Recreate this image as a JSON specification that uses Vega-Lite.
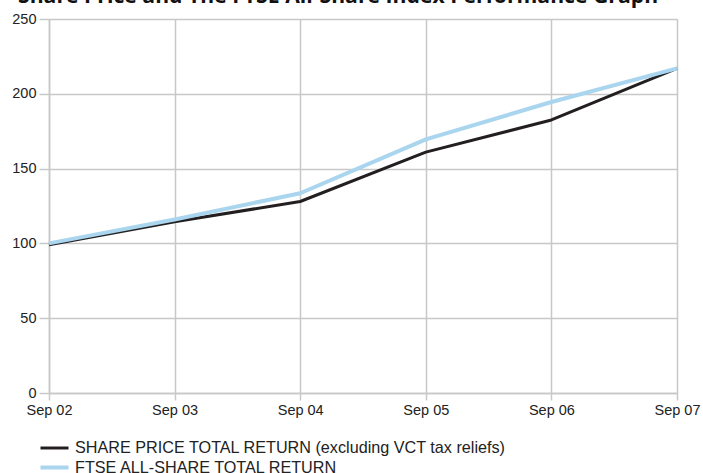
{
  "$schema": "https://vega.github.io/schema/vega-lite/v6.json",
  "width": 628,
  "height": 374,
  "autosize": {"type": "none"},
  "padding": {"left": 49, "top": 19, "right": 26, "bottom": 80},
  "background": "white",
  "title": {
    "text": "Share Price and The FTSE All-Share Index Performance Graph",
    "anchor": "start",
    "frame": "group",
    "dx": -31,
    "offset": 4,
    "font": "Open Sans",
    "fontSize": 21.2,
    "fontWeight": "bold",
    "color": "#111111"
  },
  "data": {
    "values": [
      {"date": "Sep 02", "series": "SHARE PRICE TOTAL RETURN (excluding VCT tax reliefs)", "value": 99},
      {"date": "Sep 03", "series": "SHARE PRICE TOTAL RETURN (excluding VCT tax reliefs)", "value": 114.5},
      {"date": "Sep 04", "series": "SHARE PRICE TOTAL RETURN (excluding VCT tax reliefs)", "value": 128},
      {"date": "Sep 05", "series": "SHARE PRICE TOTAL RETURN (excluding VCT tax reliefs)", "value": 161},
      {"date": "Sep 06", "series": "SHARE PRICE TOTAL RETURN (excluding VCT tax reliefs)", "value": 182.5},
      {"date": "Sep 07", "series": "SHARE PRICE TOTAL RETURN (excluding VCT tax reliefs)", "value": 217},
      {"date": "Sep 02", "series": "FTSE ALL-SHARE TOTAL RETURN", "value": 100},
      {"date": "Sep 03", "series": "FTSE ALL-SHARE TOTAL RETURN", "value": 116},
      {"date": "Sep 04", "series": "FTSE ALL-SHARE TOTAL RETURN", "value": 133.5},
      {"date": "Sep 05", "series": "FTSE ALL-SHARE TOTAL RETURN", "value": 169.5},
      {"date": "Sep 06", "series": "FTSE ALL-SHARE TOTAL RETURN", "value": 194.5},
      {"date": "Sep 07", "series": "FTSE ALL-SHARE TOTAL RETURN", "value": 217}
    ]
  },
  "mark": {"type": "line", "strokeJoin": "round"},
  "encoding": {
    "x": {
      "field": "date",
      "type": "ordinal",
      "title": null,
      "scale": {"type": "point", "padding": 0},
      "axis": {
        "labelAngle": 0,
        "grid": true,
        "gridColor": "#c8c8c8",
        "gridWidth": 1.5,
        "domainColor": "#c8c8c8",
        "domainWidth": 1.5,
        "tickColor": "#c8c8c8",
        "tickWidth": 1.5,
        "tickSize": 7,
        "labelFont": "Liberation Sans",
        "labelFontSize": 14.5,
        "labelColor": "#222222",
        "labelPadding": 3,
        "labelOverlap": false
      }
    },
    "y": {
      "field": "value",
      "type": "quantitative",
      "title": null,
      "scale": {"domain": [0, 250], "nice": false},
      "axis": {
        "values": [0, 50, 100, 150, 200, 250],
        "grid": true,
        "gridColor": "#c8c8c8",
        "gridWidth": 1.5,
        "domainColor": "#c8c8c8",
        "domainWidth": 1.5,
        "tickColor": "#c8c8c8",
        "tickWidth": 1.5,
        "tickSize": 10,
        "labelFont": "Liberation Sans",
        "labelFontSize": 14.5,
        "labelColor": "#222222",
        "labelPadding": 3
      }
    },
    "strokeWidth": {
      "field": "series",
      "type": "nominal",
      "scale": {
        "domain": ["SHARE PRICE TOTAL RETURN (excluding VCT tax reliefs)", "FTSE ALL-SHARE TOTAL RETURN"],
        "range": [3, 4]
      },
      "legend": null
    },
    "color": {
      "field": "series",
      "type": "nominal",
      "scale": {
        "domain": ["SHARE PRICE TOTAL RETURN (excluding VCT tax reliefs)", "FTSE ALL-SHARE TOTAL RETURN"],
        "range": ["#231f20", "#a9d5ee"]
      },
      "legend": {
        "title": null,
        "orient": "none",
        "legendX": -5,
        "legendY": 419,
        "symbolType": "M-1.65,0H1.65",
        "symbolStrokeWidth": 4,
        "symbolSize": 289,
        "labelFont": "Liberation Sans",
        "labelFontSize": 16.2,
        "labelLimit": 700,
        "labelColor": "#222222",
        "labelOffset": 10,
        "rowPadding": 0
      }
    }
  }
}
